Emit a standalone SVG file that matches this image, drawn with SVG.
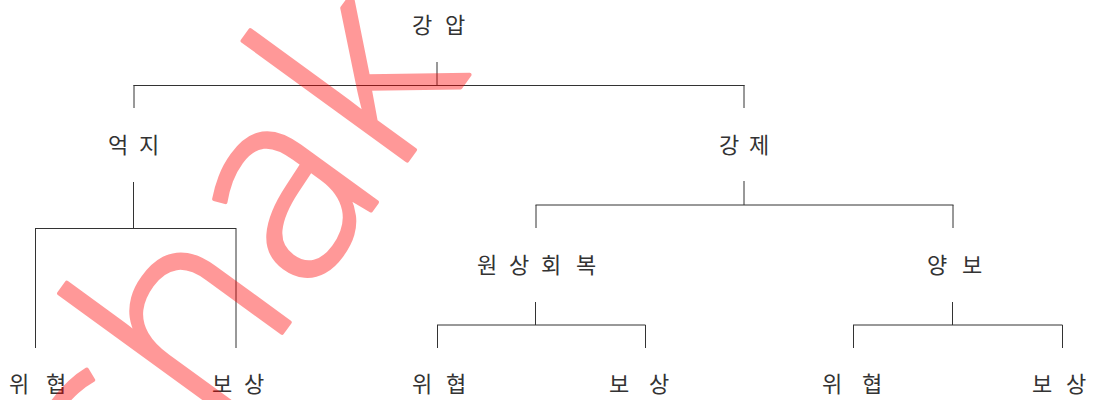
<svg xmlns="http://www.w3.org/2000/svg" width="1096" height="400" viewBox="0 0 1096 400">
<style>
.t{font-family:"Noto Sans CJK KR","Noto Sans",sans-serif;font-size:22px;fill:#333;}
.c line{stroke:#333;stroke-width:1;}
.wm{font-family:"Open Sans",Roboto,sans-serif;font-weight:300;font-size:268px;letter-spacing:6px;fill:#ff0000;stroke:#ff0000;stroke-width:4;stroke-linejoin:round;}
</style>
<rect width="1096" height="400" fill="#fff"/>
<g id="connectors" class="c">
<line x1="437" y1="62" x2="437" y2="85.5"/>
<line x1="133.5" y1="85.5" x2="744.5" y2="85.5"/>
<line x1="134" y1="85" x2="134" y2="108"/>
<line x1="744" y1="85" x2="744" y2="108"/>
<line x1="133.5" y1="182" x2="133.5" y2="229"/>
<line x1="35" y1="228.5" x2="236" y2="228.5"/>
<line x1="35.5" y1="228" x2="35.5" y2="348"/>
<line x1="236" y1="228" x2="236" y2="348"/>
<line x1="744" y1="181" x2="744" y2="205"/>
<line x1="535.5" y1="205" x2="953.5" y2="205"/>
<line x1="536" y1="205" x2="536" y2="228"/>
<line x1="953" y1="205" x2="953" y2="228"/>
<line x1="535.5" y1="302" x2="535.5" y2="325"/>
<line x1="437" y1="325" x2="645.5" y2="325"/>
<line x1="437.5" y1="325" x2="437.5" y2="348"/>
<line x1="645.5" y1="325" x2="645.5" y2="348"/>
<line x1="952.5" y1="302" x2="952.5" y2="325"/>
<line x1="853" y1="325" x2="1062.5" y2="325"/>
<line x1="853.5" y1="325" x2="853.5" y2="348"/>
<line x1="1062.5" y1="325" x2="1062.5" y2="348"/>
</g>
<g id="n-gangap"><text class="t" x="412 432 445" y="33">강 압</text></g>
<g id="n-eokji"><text class="t" x="108 128 139" y="153">억 지</text></g>
<g id="n-gangje"><text class="t" x="719 739 749" y="153">강 제</text></g>
<g id="n-wonsang"><text class="t" x="477 499 509 531 541 563 576" y="273">원 상 회 복</text></g>
<g id="n-yangbo"><text class="t" x="927 947 962" y="273">양 보</text></g>
<g id="n-wihyeop1"><text class="t" x="9 29 46" y="392">위 협</text></g>
<g id="n-bosang1"><text class="t" x="212 232 244" y="392">보 상</text></g>
<g id="n-wihyeop2"><text class="t" x="412 432 446" y="392">위 협</text></g>
<g id="n-bosang2"><text class="t" x="609 629 649" y="392">보 상</text></g>
<g id="n-wihyeop3"><text class="t" x="822 842 862" y="392">위 협</text></g>
<g id="n-bosang3"><text class="t" x="1032 1052 1066" y="392">보 상</text></g>
<g id="watermark" opacity="0.4"><text class="wm" transform="translate(133,538) rotate(-54)">shak</text></g>
</svg>
